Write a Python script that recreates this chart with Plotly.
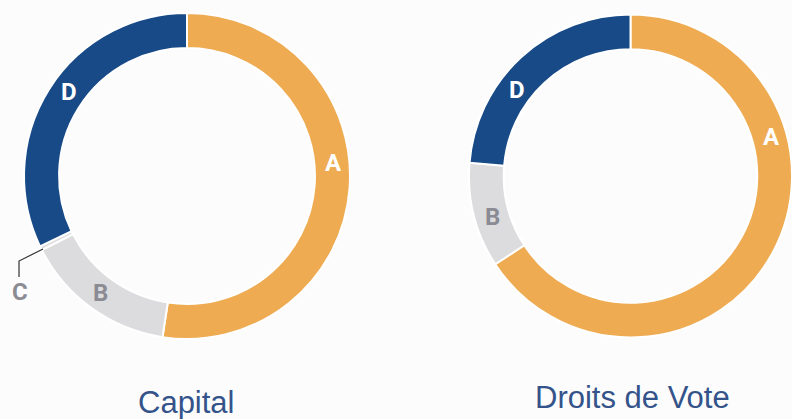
import plotly.graph_objects as go

W, H = 792, 419

# ---- data ----
capital_labels = ["A", "B", "C", "D"]
capital_values = [52.4, 15.1, 0.4, 32.1]
vote_labels = ["A", "B", "D"]
vote_values = [65.8, 10.5, 23.7]
titles = ["Capital", "Droits de Vote"]

ORANGE = "#EEAB52"
NAVY = "#174A87"
GREY = "#DCDCDF"
LABEL_GREY = "#8B8B93"
TITLE = "#34538A"
BG = "#FCFCFC"

color_map = {"A": ORANGE, "B": GREY, "C": GREY, "D": NAVY}
text_color = {"A": "white", "B": LABEL_GREY, "C": LABEL_GREY, "D": "white"}


def px(x):
    return x / W


def py(y):
    return 1 - y / H


fig = go.Figure()

fig.add_trace(go.Pie(
    labels=capital_labels, values=capital_values, sort=False,
    direction="clockwise", rotation=0, hole=0.785,
    marker=dict(colors=[color_map[l] for l in capital_labels],
                line=dict(color="white", width=2)),
    textinfo="none", hoverinfo="label+percent", showlegend=False,
    domain=dict(x=[px(24), px(350)], y=[py(339), py(13)]),
))
fig.add_trace(go.Pie(
    labels=vote_labels, values=vote_values, sort=False,
    direction="clockwise", rotation=0, hole=0.785,
    marker=dict(colors=[color_map[l] for l in vote_labels],
                line=dict(color="white", width=2)),
    textinfo="none", hoverinfo="label+percent", showlegend=False,
    domain=dict(x=[px(469), 1.0], y=[py(339), py(13)]),
))

label_font = "Roboto, Liberation Sans Narrow, sans-serif"
# segment label positions (pixels)
seg_pos = [
    ("A", 333, 163), ("B", 100, 293), ("C", 20, 292), ("D", 69, 92),
    ("A", 771, 137), ("B", 492, 217), ("D", 517, 90),
]
annotations = []
for lab, x, y in seg_pos:
    annotations.append(dict(
        x=px(x), y=py(y), xref="paper", yref="paper", text=f"<b>{lab}</b>",
        showarrow=False, xanchor="center", yanchor="middle",
        font=dict(family=label_font, size=24, color=text_color[lab]),
    ))

title_pos = [(186, 402), (632, 397)]
for t, (x, y) in zip(titles, title_pos):
    annotations.append(dict(
        x=px(x), y=py(y), xref="paper", yref="paper", text=t,
        showarrow=False, xanchor="center", yanchor="middle",
        font=dict(family="Liberation Sans, Arial, sans-serif", size=31, color=TITLE),
    ))

fig.update_layout(
    width=W, height=H, margin=dict(l=0, r=0, t=0, b=0),
    paper_bgcolor=BG, plot_bgcolor=BG,
    annotations=annotations,
    shapes=[dict(
        type="path", xref="paper", yref="paper",
        path=f"M {px(43)} {py(249)} L {px(19)} {py(261)} L {px(19)} {py(277)}",
        line=dict(color="#333333", width=1.2),
    )],
)

fig.write_html(
    "out.html",
    config={"displayModeBar": False},
    post_script="document.body.style.margin='0';document.body.style.overflow='hidden';",
)
